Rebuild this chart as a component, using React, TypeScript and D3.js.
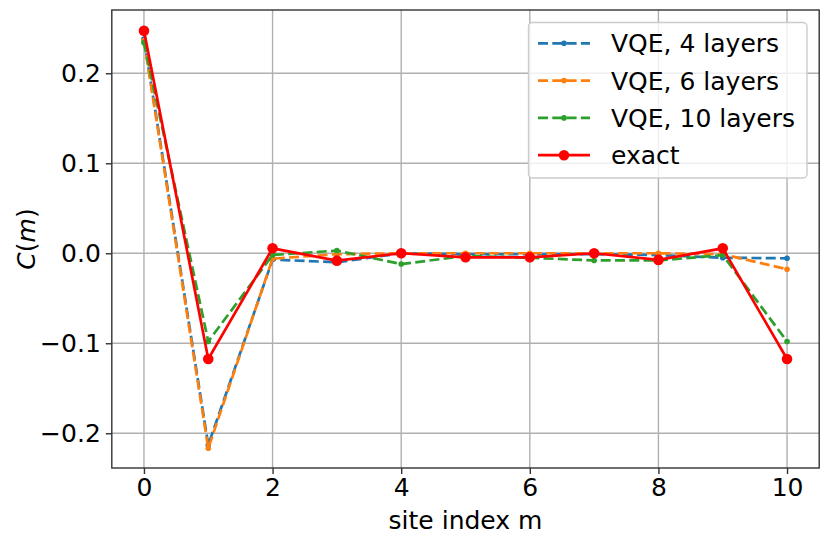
import React, { useEffect, useRef } from 'react';
import * as d3 from 'd3';

// site index m
const sites = [0, 1, 2, 3, 4, 5, 6, 7, 8, 9, 10];
// correlation C(m) for each series
const vqe4 = [0.238, -0.213, -0.007, -0.010, 0.0, -0.001, -0.001, -0.001, -0.002, -0.005, -0.0056];
const vqe6 = [0.236, -0.2167, -0.006, -0.001, 0.0, 0.0, 0.0, 0.0, 0.0, -0.001, -0.0178];
const vqe10 = [0.234, -0.098, -0.002, 0.003, -0.012, -0.003, -0.005, -0.008, -0.008, -0.002, -0.098];
const exact = [0.2473, -0.1175, 0.0055, -0.0082, 0.0, -0.0045, -0.0045, 0.0, -0.0074, 0.0055, -0.1175];

const xTicks = [0, 2, 4, 6, 8, 10];
const yTicks = [-0.2, -0.1, 0.0, 0.1, 0.2];

const seriesList = [
  { name: 'VQE, 4 layers', values: vqe4, color: '#1f77b4', dashed: true, r: 2.8 },
  { name: 'VQE, 6 layers', values: vqe6, color: '#ff7f0e', dashed: true, r: 2.8 },
  { name: 'VQE, 10 layers', values: vqe10, color: '#2ca02c', dashed: true, r: 2.8 },
  { name: 'exact', values: exact, color: '#ff0000', dashed: false, r: 5.3 },
];

const W = 830;
const H = 545;
const FONT = 'DejaVu Sans, sans-serif';

export default function App() {
  const svgRef = useRef<SVGSVGElement>(null);

  useEffect(() => {
    if (!svgRef.current) return;
    const svg = d3.select(svgRef.current);
    svg.selectAll('*').remove();

    const x = d3.scaleLinear().domain([-0.5, 10.5]).range([111.8, 819.2]);
    const y = d3.scaleLinear().domain([-0.2386, 0.2703]).range([468, 10]);
    const [x0, x1] = x.range();
    const [y1, y0] = y.range();

    // grid
    const grid = svg.append('g');
    xTicks.forEach(t => {
      grid.append('line')
        .attr('x1', x(t)).attr('x2', x(t)).attr('y1', y0).attr('y2', y1)
        .attr('stroke', '#b0b0b0').attr('stroke-width', 1.4);
    });
    yTicks.forEach(t => {
      grid.append('line')
        .attr('x1', x0).attr('x2', x1).attr('y1', y(t)).attr('y2', y(t))
        .attr('stroke', '#b0b0b0').attr('stroke-width', 1.4);
    });

    // lines
    const line = d3.line<number>()
      .x((_, i) => x(sites[i]))
      .y(d => y(d));

    seriesList.forEach(s => {
      const g = svg.append('g');
      g.append('path')
        .attr('d', line(s.values))
        .attr('fill', 'none')
        .attr('stroke', s.color)
        .attr('stroke-width', 2.7)
        .attr('stroke-dasharray', s.dashed ? '10,4.3' : null);
      g.selectAll('circle')
        .data(s.values)
        .join('circle')
        .attr('cx', (_, i) => x(sites[i]))
        .attr('cy', d => y(d))
        .attr('r', s.r)
        .attr('fill', s.color);
    });

    // spines
    svg.append('rect')
      .attr('x', x0).attr('y', y0)
      .attr('width', x1 - x0).attr('height', y1 - y0)
      .attr('fill', 'none').attr('stroke', '#333').attr('stroke-width', 1.4);

    // x axis
    const xAxis = svg.append('g').attr('transform', `translate(0,${y1})`)
      .call(d3.axisBottom(x).tickValues(xTicks).tickSize(6).tickPadding(4).tickFormat(d => String(d)));
    xAxis.select('.domain').remove();
    xAxis.selectAll('line').attr('stroke', '#333').attr('stroke-width', 1.4);
    xAxis.selectAll('text').attr('font-size', 25).attr('font-family', FONT).attr('fill', '#000');

    // y axis
    const yAxis = svg.append('g').attr('transform', `translate(${x0},0)`)
      .call(d3.axisLeft(y).tickValues(yTicks).tickSize(6).tickPadding(5)
        .tickFormat(d => (d as number).toFixed(1).replace('-', '\u2212')));
    yAxis.select('.domain').remove();
    yAxis.selectAll('line').attr('stroke', '#333').attr('stroke-width', 1.4);
    yAxis.selectAll('text').attr('font-size', 25).attr('font-family', FONT).attr('fill', '#000');

    // axis labels
    svg.append('text')
      .attr('x', (x0 + x1) / 2).attr('y', 529)
      .attr('text-anchor', 'middle')
      .attr('font-size', 25).attr('font-family', FONT)
      .text('site index m');

    const yl = svg.append('text')
      .attr('transform', `translate(35,${(y0 + y1) / 2}) rotate(-90)`)
      .attr('text-anchor', 'middle')
      .attr('font-size', 25).attr('font-family', FONT);
    yl.append('tspan').attr('font-style', 'italic').text('C');
    yl.append('tspan').text('(');
    yl.append('tspan').attr('font-style', 'italic').text('m');
    yl.append('tspan').text(')');

    // legend
    const lg = svg.append('g');
    lg.append('rect')
      .attr('x', 528.5).attr('y', 22.5).attr('width', 278.5).attr('height', 155.5)
      .attr('rx', 4)
      .attr('fill', 'white').attr('fill-opacity', 0.8)
      .attr('stroke', '#cccccc').attr('stroke-width', 1.4);
    seriesList.forEach((s, i) => {
      const cy = 43.3 + i * 37.3;
      lg.append('line')
        .attr('x1', 538).attr('x2', 590).attr('y1', cy).attr('y2', cy)
        .attr('stroke', s.color).attr('stroke-width', 2.7)
        .attr('stroke-dasharray', s.dashed ? '10,4.3' : null);
      lg.append('circle').attr('cx', 564).attr('cy', cy).attr('r', s.r).attr('fill', s.color);
      lg.append('text')
        .attr('x', 611).attr('y', cy)
        .attr('dy', '0.36em')
        .attr('font-size', 25).attr('font-family', FONT)
        .text(s.name);
    });
  }, []);

  return (
    <svg
      ref={svgRef}
      width={W}
      height={H}
      style={{ position: 'absolute', left: 0, top: 0, background: 'white' }}
    />
  );
}
